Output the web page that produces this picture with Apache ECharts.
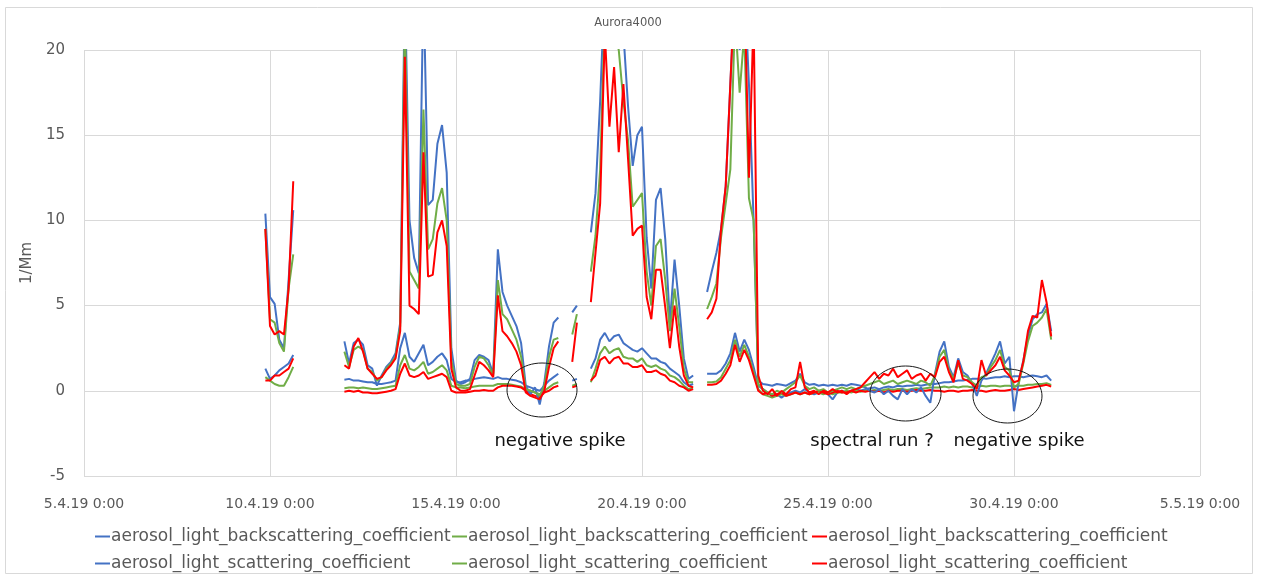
<!DOCTYPE html>
<html>
<head>
<meta charset="utf-8">
<script src="https://cdn.jsdelivr.net/npm/echarts@6/dist/echarts.min.js"></script>
<style>html,body{margin:0;padding:0;background:#fff}#c{width:1261px;height:579px}</style>
</head>
<body>
<div id="c"></div>
<script>
// x axis: days since 5.4.19 0:00; samples every 3 hours starting 9.4.19 21:00
const startDay = 4.875;
const stepDay = 0.125;
const tickLabels = ["5.4.19 0:00","10.4.19 0:00","15.4.19 0:00","20.4.19 0:00","25.4.19 0:00","30.4.19 0:00","5.5.19 0:00"];
const N = null;

// aerosol_light_backscattering_coefficient (blue, green, red)
const bsBlue = [1.3,0.7,0.9,1.2,1.4,1.6,2.1, N,N,N,N,N,N,N,N,N,N,
 0.65,0.7,0.6,0.6,0.55,0.5,0.5,0.4,0.4,0.45, 0.5,0.6,2.5,3.4,2.0,1.7,2.2,2.7,1.5,1.7, 2.0,2.2,1.8,0.7,0.5,0.5,0.6,0.6,0.7,0.75, 0.8,0.75,0.7,0.8,0.7,0.7,0.65,0.6,0.5,0.3, 0.2,0.1,0.0,0.3,0.6,0.8,1.0,
 N,N, 0.6,0.7, N,N,
 1.3,1.9,3.0,3.4,2.9,3.2,3.3,2.8,2.6,2.4,2.3,2.5,2.2,1.9,1.9,1.7,1.6,1.3,1.1,0.9,0.5,0.3,0.4,
 N,N,
 1.0,1.0,1.0,1.2,1.6,2.2,3.4,2.3,3.0,2.4,1.4,0.3,
 0.1,-0.1,-0.3,-0.2,-0.4,-0.2,-0.1,0.0,-0.1,0.1,-0.1,-0.2,-0.1,0.0,-0.2,-0.5,-0.1,0.0,-0.1,0.0,0.1,0.0,
 0.1,0.15,0.2,0.1,0.2,0.25,0.2,0.3,0.25,0.3,0.3,0.35,0.3,0.35,0.4,0.4,
 0.45,0.5,0.5,0.55,0.6,0.6,0.65,0.7,0.7,0.75,0.7,0.75,0.8,0.8,0.85,0.8,0.85,0.85,0.8,0.85,0.9,0.85,0.8,0.9,0.6];
const bsGreen = [0.8,0.6,0.4,0.3,0.3,0.8,1.4, N,N,N,N,N,N,N,N,N,N,
 0.15,0.2,0.2,0.15,0.2,0.15,0.1,0.1,0.15,0.2, 0.25,0.3,1.5,2.1,1.3,1.2,1.4,1.7,1.0,1.1, 1.3,1.5,1.2,0.3,0.2,0.2,0.15,0.2,0.25,0.3, 0.3,0.3,0.3,0.4,0.4,0.4,0.35,0.3,0.25,0.1, 0.0,-0.1,-0.2,0.0,0.2,0.4,0.5,
 N,N, 0.3,0.4, N,N,
 0.5,1.3,2.2,2.6,2.2,2.4,2.5,2.0,1.9,1.9,1.7,1.9,1.5,1.4,1.5,1.3,1.2,0.9,0.8,0.6,0.3,0.1,0.2,
 N,N,
 0.5,0.5,0.55,0.8,1.3,1.8,3.0,2.0,2.7,2.0,1.1,0.1,
 -0.2,-0.3,-0.4,-0.3,-0.2,-0.3,-0.2,-0.1,-0.2,-0.1,-0.2,-0.1,-0.1,-0.2,-0.1,-0.2,-0.1,-0.1,0.0,-0.1,0.0,-0.05,
 0.0,0.0,0.05,0.0,0.05,0.1,0.05,0.1,0.1,0.05,0.1,0.15,0.1,0.15,0.2,0.2,
 0.2,0.25,0.2,0.25,0.2,0.25,0.25,0.2,0.25,0.3,0.25,0.3,0.3,0.25,0.3,0.3,0.25,0.3,0.3,0.35,0.35,0.4,0.4,0.45,0.35];
const bsRed = [0.6,0.6,0.9,0.9,1.1,1.3,1.9, N,N,N,N,N,N,N,N,N,N,
 -0.05,0.0,-0.05,0.0,-0.1,-0.1,-0.15,-0.15,-0.1,-0.05, 0.0,0.1,1.0,1.6,0.9,0.8,0.9,1.1,0.7,0.8, 0.9,1.0,0.8,0.0,-0.1,-0.1,-0.1,-0.05,0.0,0.0, 0.05,0.0,0.0,0.2,0.3,0.3,0.3,0.25,0.2,0.0, -0.2,-0.3,-0.4,-0.1,0.0,0.2,0.3,
 N,N, 0.2,0.3, N,N,
 0.6,0.9,1.8,2.0,1.6,1.9,2.0,1.6,1.6,1.4,1.4,1.5,1.1,1.1,1.2,1.0,0.9,0.6,0.5,0.3,0.2,0.0,0.1,
 N,N,
 0.35,0.35,0.4,0.6,1.0,1.5,2.7,1.7,2.4,1.8,0.9,0.0,
 -0.2,-0.1,-0.3,-0.2,-0.1,-0.3,-0.2,-0.1,-0.2,-0.1,-0.2,-0.1,0.0,-0.1,-0.2,-0.1,0.0,-0.1,-0.1,0.0,-0.1,0.0,
 -0.05,0.0,-0.05,0.0,-0.1,0.0,-0.05,0.0,0.0,-0.05,0.0,0.05,0.0,0.0,0.05,0.0,
 0.0,-0.05,0.0,0.0,-0.05,0.0,0.0,0.05,0.0,0.0,-0.05,0.0,0.05,0.0,0.0,0.05,0.1,0.05,0.1,0.15,0.2,0.25,0.3,0.35,0.25];

// aerosol_light_scattering_coefficient (blue, green, red)
const scBlue = [10.4,5.5,5.1,3.0,2.5,6.5,10.6, N,N,N,N,N,N,N,N,N,N,
 2.9,1.6,2.8,3.0,2.7,1.5,1.3,0.3,0.9,1.4, 1.7,2.2,4.0,24,10,7.8,6.9,24,10.9,11.2, 14.5,15.6,12.8,2.5,0.6,0.4,0.5,0.7,1.8,2.1, 2.0,1.8,1.0,8.3,5.8,5.0,4.4,3.8,2.8,0.3, -0.2,0.2,-0.8,0.5,2.6,4.0,4.3,
 N,N, 4.6,5.0, N,N,
 9.3,11.6,17,24,25,23,22,21,16.7,13.2,15,15.5,9,6.0,11.2,11.9,8.9,4.0,7.7,5.0,1.9,0.7,0.9,
 N,N,
 5.8,7.0,8.1,9.5,12,18,24,20,24,18,10,0.6,
 0.4,0.35,0.3,0.4,0.35,0.3,0.45,0.6,1.0,0.5,0.35,0.4,0.3,0.35,0.3,0.35,0.3,0.35,0.3,0.4,0.35,0.3,
 0.2,0.0,-0.1,0.1,-0.2,0.0,-0.3,-0.5,0.1,-0.2,0.1,-0.1,0.2,-0.3,-0.7,1.0,
 2.3,2.9,1.4,0.8,1.9,1.1,0.9,0.4,-0.3,0.6,1.0,1.6,2.2,2.9,1.6,2.0,-1.2,0.5,1.8,3.2,4.2,4.5,4.6,5.1,3.5];
const scGreen = [9.5,4.2,4.0,2.8,2.3,6.0,8.0, N,N,N,N,N,N,N,N,N,N,
 2.3,1.4,2.4,2.6,2.4,1.3,1.1,0.6,0.8,1.3, 1.6,2.0,3.8,22,7,6.5,6.0,16.5,8.3,8.9, 11.0,11.9,10.0,1.8,0.4,0.3,0.3,0.4,1.4,2.0, 1.9,1.5,0.9,6.5,4.5,4.2,3.6,3.0,2.0,0.1, 0.0,-0.1,-0.3,0.3,2.0,3.0,3.1,
 N,N, 3.3,4.5, N,N,
 7.0,9.1,13,22,22,21,20,17,14.7,10.8,11.2,11.6,7.0,5.0,8.5,8.9,6.5,3.5,6.0,3.8,1.3,0.5,0.5,
 N,N,
 4.8,5.5,6.3,9.0,11,13,22,17.5,21,11.3,10,0.4,
 0.1,-0.1,-0.2,0.0,-0.1,0.1,0.3,0.5,0.9,0.3,0.1,0.2,0.0,0.1,-0.1,0.0,0.1,0.2,0.1,0.2,0.1,0.2,
 0.3,0.4,0.5,0.6,0.4,0.5,0.6,0.4,0.5,0.6,0.5,0.4,0.6,0.5,0.3,0.9,
 2.0,2.4,1.2,0.7,1.6,0.9,0.8,0.5,0.3,0.8,0.9,1.4,1.8,2.4,1.4,1.2,0.2,0.4,1.6,2.9,3.8,4.0,4.3,4.8,3.0];
const scRed = [9.5,3.8,3.3,3.5,3.3,6.0,12.3, N,N,N,N,N,N,N,N,N,N,
 1.5,1.3,2.6,3.1,2.3,1.3,1.0,0.7,0.8,1.2, 1.5,1.9,3.5,19.6,5.0,4.8,4.5,14,6.7,6.8, 9.3,10.0,8.5,1.3,0.2,0.0,0.0,0.1,0.9,1.7, 1.5,1.2,0.8,5.6,3.5,3.2,2.8,2.3,1.5,-0.1, -0.3,-0.4,-0.5,0.0,1.4,2.5,2.9,
 N,N, 1.7,4.0, N,N,
 5.2,8.1,11,21,15.5,19,14,18,13.6,9.1,9.5,9.7,5.5,4.2,7.1,7.1,4.9,2.5,5.0,2.6,0.9,0.3,0.2,
 N,N,
 4.2,4.6,5.4,9.5,12,18,24,24,24,12.5,22,0.9,
 0.0,-0.2,0.1,-0.3,0.0,-0.2,0.1,0.2,1.7,0.2,-0.1,0.0,-0.2,0.0,-0.1,0.1,-0.1,0.0,-0.2,0.0,0.1,0.2,
 0.5,0.8,1.1,0.7,1.0,0.9,1.3,0.8,1.0,1.2,0.7,0.9,1.0,0.6,1.0,0.8,
 1.7,2.0,1.1,0.5,1.8,0.7,0.6,0.4,0.1,1.8,0.9,1.2,1.5,2.0,1.2,0.9,0.5,0.6,1.7,3.5,4.4,4.3,6.5,5.2,3.2];

const seriesDefs = [
  {id:'bsB', label:'aerosol_light_backscattering_coefficient', color:'#4472C4', data:bsBlue, legend:[95,528]},
  {id:'bsG', label:'aerosol_light_backscattering_coefficient', color:'#70AD47', data:bsGreen, legend:[452,528]},
  {id:'bsR', label:'aerosol_light_backscattering_coefficient', color:'#FF0000', data:bsRed, legend:[812,528]},
  {id:'scB', label:'aerosol_light_scattering_coefficient', color:'#4472C4', data:scBlue, legend:[95,555]},
  {id:'scG', label:'aerosol_light_scattering_coefficient', color:'#70AD47', data:scGreen, legend:[452,555]},
  {id:'scR', label:'aerosol_light_scattering_coefficient', color:'#FF0000', data:scRed, legend:[812,555]}
];
const labelOf = {};
seriesDefs.forEach(s => labelOf[s.id] = s.label);

const chart = echarts.init(document.getElementById('c'), null, {renderer:'canvas'});
const font = 'DejaVu Sans';
const option = {
  animation: false,
  backgroundColor: '#fff',
  grid: {left:84, right:61, top:50, bottom:103, containLabel:false},
  xAxis: {
    type:'value', min:0, max:30, interval:5,
    axisLine:{show:false}, axisTick:{show:false},
    splitLine:{show:true, lineStyle:{color:'#d9d9d9', width:1}},
    axisLabel:{color:'#595959', fontSize:14, fontFamily:font, margin:21,
      formatter: v => tickLabels[Math.round(v/5)]}
  },
  yAxis: {
    type:'value', min:-5, max:20, interval:5,
    name:'1/Mm', nameLocation:'middle', nameGap:46, nameRotate:90,
    nameTextStyle:{color:'#595959', fontSize:15, fontFamily:font},
    axisLine:{show:false}, axisTick:{show:false},
    splitLine:{show:true, lineStyle:{color:'#d9d9d9', width:1}},
    axisLabel:{color:'#595959', fontSize:15, fontFamily:font, margin:19}
  },
  legend: seriesDefs.map(s => ({
    left:s.legend[0], top:s.legend[1], padding:0, data:[s.id], selectedMode:false,
    icon:'rect', itemWidth:15, itemHeight:2, itemGap:0,
    formatter: n => labelOf[n],
    textStyle:{color:'#595959', fontSize:17, fontFamily:font, padding:[0,0,0,-4]}
  })),
  series: seriesDefs.map(s => ({
    name:s.id, type:'line', showSymbol:false, symbol:'none', connectNulls:false, clip:true,
    color:s.color,
    lineStyle:{color:s.color, width:2},
    data: s.data.map((v,i) => [startDay + i*stepDay, v === null ? '-' : v])
  })),
  graphic: [
    {type:'rect', shape:{x:5.5, y:7.5, width:1247, height:566}, style:{fill:'none', stroke:'#d9d9d9', lineWidth:1}, silent:true, z:-10},
    {type:'text', x:628, y:23, style:{text:'Aurora4000', font:'11.5px "DejaVu Sans"', fill:'#595959', textAlign:'center', textVerticalAlign:'middle'}},
    {type:'ellipse', shape:{cx:542, cy:390, rx:35, ry:27}, style:{fill:'none', stroke:'#1a1a1a', lineWidth:1}, z:100},
    {type:'ellipse', shape:{cx:905.5, cy:393.5, rx:35.5, ry:27.5}, style:{fill:'none', stroke:'#1a1a1a', lineWidth:1}, z:100},
    {type:'ellipse', shape:{cx:1007.5, cy:396, rx:34.5, ry:27}, style:{fill:'none', stroke:'#1a1a1a', lineWidth:1}, z:100},
    {type:'text', x:560, y:441, style:{text:'negative spike', font:'18px "DejaVu Sans"', fill:'#111', textAlign:'center', textVerticalAlign:'middle'}, z:100},
    {type:'text', x:872, y:441, style:{text:'spectral run ?', font:'18px "DejaVu Sans"', fill:'#111', textAlign:'center', textVerticalAlign:'middle'}, z:100},
    {type:'text', x:1019, y:441, style:{text:'negative spike', font:'18px "DejaVu Sans"', fill:'#111', textAlign:'center', textVerticalAlign:'middle'}, z:100}
  ]
};
chart.setOption(option);
</script>
</body>
</html>
